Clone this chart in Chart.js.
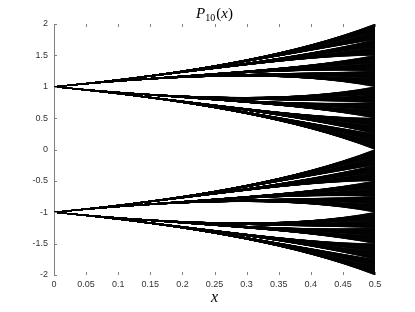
<!DOCTYPE html>
<html lang="en">
  <head>
    <meta charset="UTF-8" />
    <title>P10(x)</title>
    <script src="https://cdn.jsdelivr.net/npm/chart.js"></script>
    <style>
      body {
        margin: 0;
        background: #fff;
      }
      .wrap {
        width: 415px;
        height: 312px;
      }
    </style>
  </head>
  <body>
    <div class="wrap"><canvas id="polyChart" width="415" height="312"></canvas></div>
    <script>
      // sample positions along x where every polynomial is drawn
      const xValues = [
        0, 0.025, 0.05, 0.075, 0.1, 0.125, 0.15, 0.175, 0.2, 0.225, 0.25,
        0.275, 0.3, 0.325, 0.35, 0.375, 0.4, 0.425, 0.45, 0.475, 0.5,
      ];
      // P_10 = all polynomials of degree 10 whose coefficients are +1 or -1
      const degree = 10;
      const coefSigns = [1, -1];
      const xTicks = [0, 0.05, 0.1, 0.15, 0.2, 0.25, 0.3, 0.35, 0.4, 0.45, 0.5];
      const yTicks = [-2, -1.5, -1, -0.5, 0, 0.5, 1, 1.5, 2];

      const datasets = [];
      const count = Math.pow(coefSigns.length, degree + 1);
      for (let m = 0; m < count; m++) {
        const coefs = [];
        for (let k = 0; k <= degree; k++) coefs.push(coefSigns[(m >> k) & 1]);
        datasets.push({
          data: xValues.map((x) => {
            let y = 0;
            for (let k = degree; k >= 0; k--) y = y * x + coefs[k];
            return { x: x, y: y };
          }),
          borderColor: "#000",
          borderWidth: 0.45,
          pointRadius: 0,
          showLine: true,
          fill: false,
          tension: 0,
        });
      }

      const fmt = (v) => String(Math.round(v * 100) / 100);

      // MATLAB style inward tick marks, title and x label
      const decor = {
        id: "decor",
        afterDraw(chart) {
          const c = chart.ctx;
          const a = chart.chartArea;
          const sx = chart.scales.x;
          const sy = chart.scales.y;
          c.save();
          c.strokeStyle = "#808080";
          c.lineWidth = 1;
          c.beginPath();
          xTicks.forEach((t) => {
            const px = Math.round(sx.getPixelForValue(t)) + 0.5;
            c.moveTo(px, a.top);
            c.lineTo(px, a.top + 3);
            c.moveTo(px, a.bottom);
            c.lineTo(px, a.bottom - 3);
          });
          yTicks.forEach((t) => {
            const py = Math.round(sy.getPixelForValue(t)) + 0.5;
            c.moveTo(a.left, py);
            c.lineTo(a.left + 3, py);
          });
          c.stroke();

          // title P_10(x)
          c.fillStyle = "#000";
          c.textBaseline = "alphabetic";
          const big = 'italic 15px "Liberation Serif"';
          const small = '10px "Liberation Serif"';
          const up = '15px "Liberation Serif"';
          c.font = big;
          const wP = c.measureText("P").width;
          const wx = c.measureText("x").width;
          c.font = small;
          const w10 = c.measureText("10").width;
          c.font = up;
          const wp = c.measureText("(").width;
          const total = wP + w10 + 2 * wp + wx + 1;
          let px = (a.left + a.right) / 2 - total / 2;
          const base = 18;
          c.font = big;
          c.fillText("P", px, base);
          px += wP;
          c.font = small;
          c.fillText("10", px, base + 3);
          px += w10 + 1;
          c.font = up;
          c.fillText("(", px, base);
          px += wp;
          c.font = big;
          c.fillText("x", px, base);
          px += wx;
          c.font = up;
          c.fillText(")", px, base);

          // x axis label
          c.font = 'italic 16px "Liberation Serif"';
          c.textAlign = "center";
          c.fillText("x", (a.left + a.right) / 2, 302);
          c.restore();
        },
      };

      const tickFont = { family: '"Liberation Sans", Arial, sans-serif', size: 9 };

      new Chart(document.getElementById("polyChart"), {
        type: "scatter",
        data: { datasets: datasets },
        options: {
          responsive: false,
          animation: false,
          events: [],
          layout: { padding: { top: 24, right: 40, left: 0, bottom: 0 } },
          plugins: {
            legend: { display: false },
            tooltip: { enabled: false },
            title: { display: false },
          },
          scales: {
            x: {
              type: "linear",
              min: 0,
              max: 0.5,
              afterBuildTicks: (s) => {
                s.ticks = xTicks.map((v) => ({ value: v }));
              },
              afterFit: (s) => {
                s.height = 37;
              },
              ticks: {
                font: tickFont,
                color: "#333",
                padding: 4,
                maxRotation: 0,
                autoSkip: false,
                callback: fmt,
              },
              grid: { display: false, drawTicks: false },
              border: { display: false },
            },
            y: {
              type: "linear",
              min: -2,
              max: 2,
              afterBuildTicks: (s) => {
                s.ticks = yTicks.map((v) => ({ value: v }));
              },
              afterFit: (s) => {
                s.width = 54;
              },
              ticks: {
                font: tickFont,
                color: "#333",
                padding: 6,
                callback: fmt,
              },
              grid: { display: true, drawOnChartArea: false, drawTicks: false },
              border: { display: true, color: "#808080", width: 1 },
            },
          },
        },
        plugins: [decor],
      });
    </script>
  </body>
</html>
